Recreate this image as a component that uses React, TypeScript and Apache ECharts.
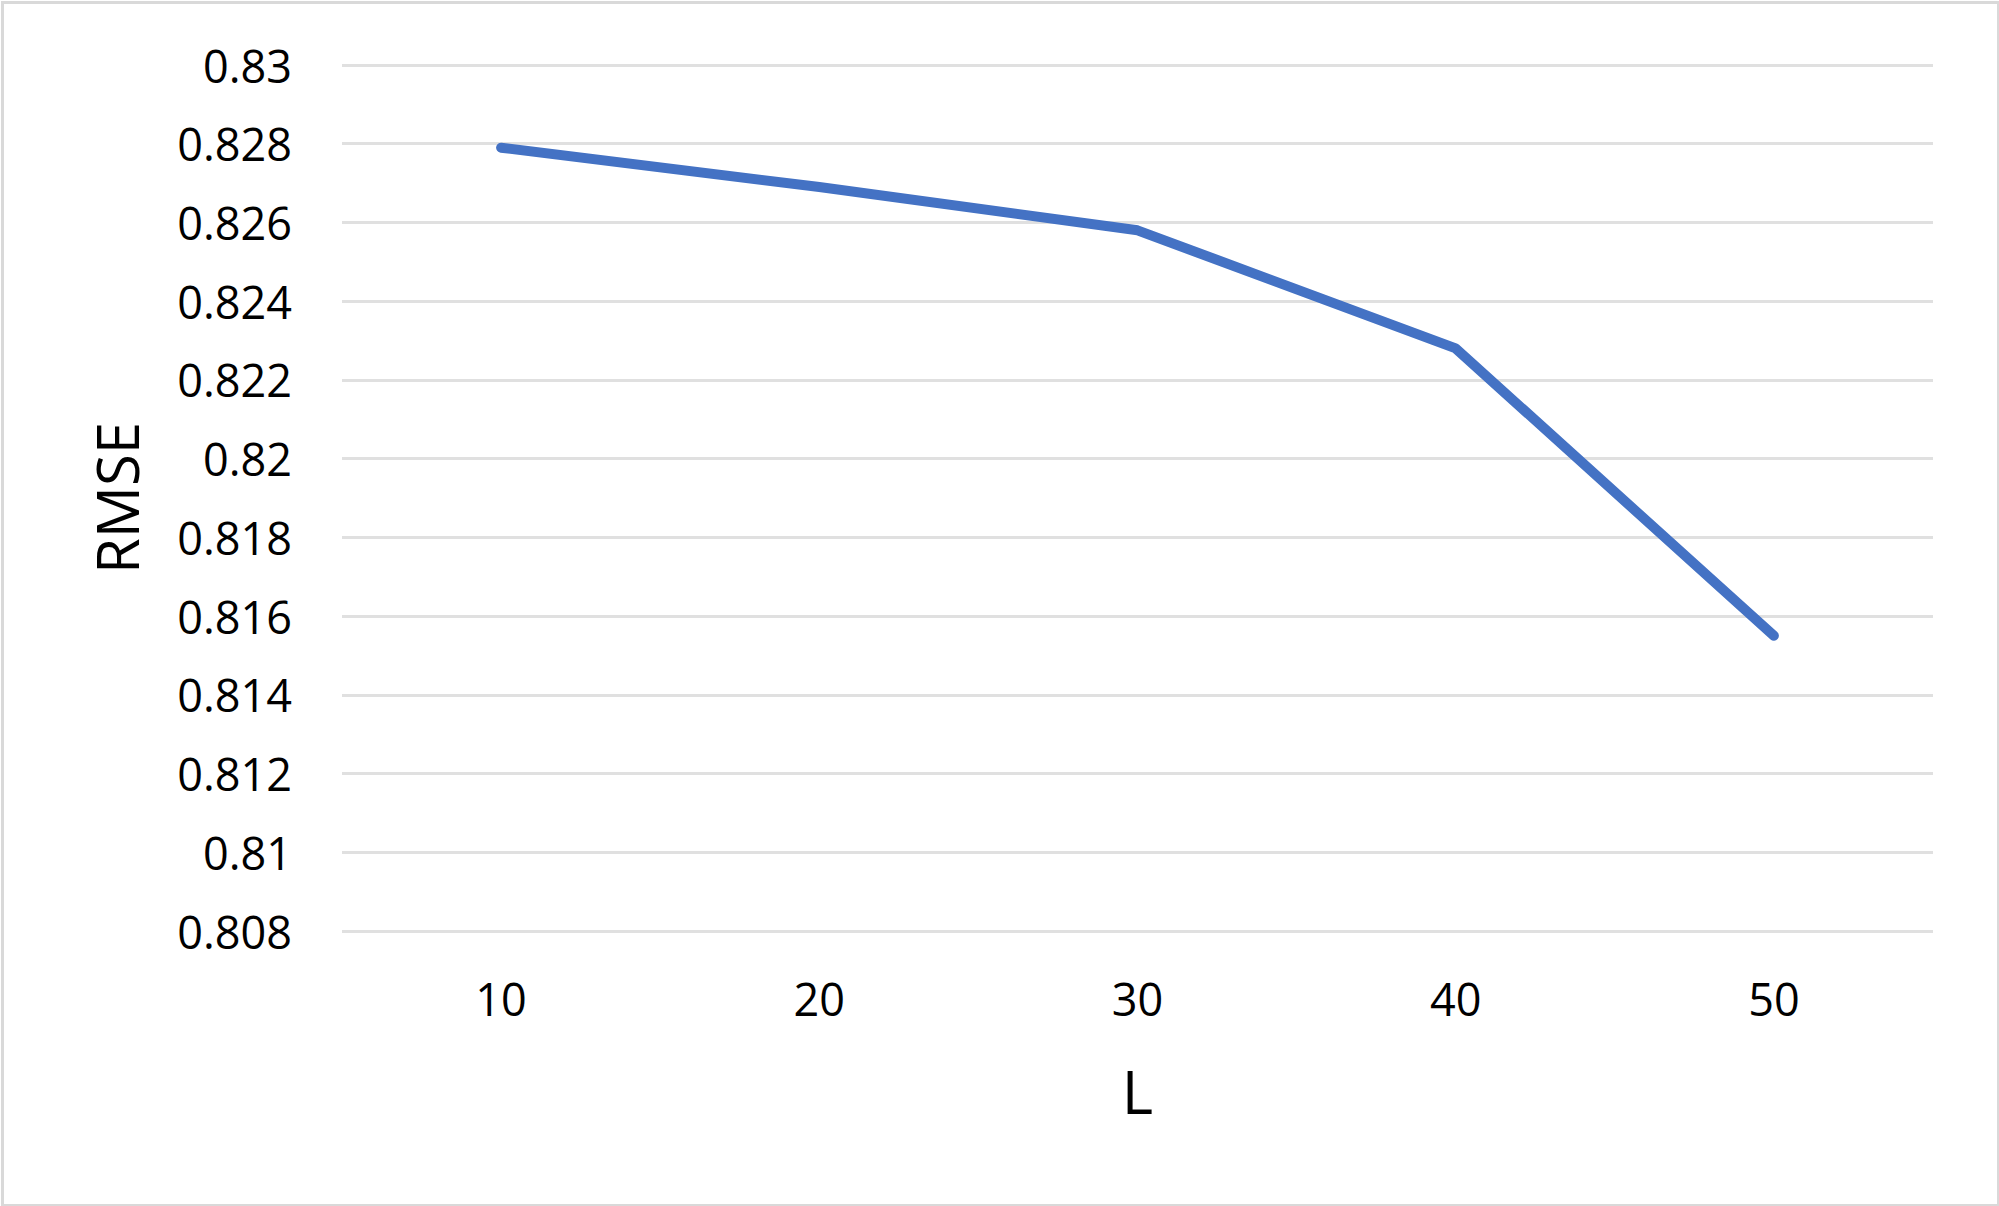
import React, { useEffect, useRef } from "react";
import * as echarts from "echarts";

const categories = ["10", "20", "30", "40", "50"];
const rmseValues = [0.8279, 0.8269, 0.8258, 0.8228, 0.8155];
const yMin = 0.808;
const yMax = 0.83;
const yStep = 0.002;
const xName = "L";
const yName = "RMSE";

export default function App() {
  const ref = useRef<HTMLDivElement>(null);
  useEffect(() => {
    if (!ref.current) return;
    const chart = echarts.init(ref.current, undefined, { renderer: "svg" });
    const font = "'Open Sans', sans-serif";
    chart.setOption({
      animation: false,
      backgroundColor: "#ffffff",
      graphic: [
        {
          type: "rect",
          left: 0,
          top: 0,
          shape: { x: 1.5, y: 1.5, width: 1996, height: 1203 },
          style: { fill: "none", stroke: "#d9d9d9", lineWidth: 3 },
          silent: true,
        },
      ],
      grid: { left: 342, right: 66, top: 65, bottom: 275, containLabel: false },
      xAxis: {
        type: "category",
        data: categories,
        boundaryGap: true,
        name: xName,
        nameLocation: "middle",
        nameGap: 130,
        nameTextStyle: { fontFamily: font, fontSize: 60, color: "#000" },
        axisLine: { show: false },
        axisTick: { show: false },
        axisLabel: { fontFamily: font, fontSize: 45, color: "#000", margin: 45 },
      },
      yAxis: {
        type: "value",
        min: yMin,
        max: yMax,
        interval: yStep,
        name: yName,
        nameLocation: "middle",
        nameGap: 197,
        nameRotate: 90,
        nameTextStyle: { fontFamily: font, fontSize: 58, color: "#000" },
        axisLine: { show: false },
        axisTick: { show: false },
        axisLabel: {
          fontFamily: font,
          fontSize: 45,
          color: "#000",
          margin: 50,
          formatter: (v: number) => String(parseFloat(v.toFixed(3))),
        },
        splitLine: { lineStyle: { color: "#e0e0e0", width: 3 } },
      },
      series: [
        {
          type: "line",
          data: rmseValues,
          showSymbol: false,
          symbol: "none",
          lineStyle: { color: "#4472C4", width: 10, cap: "round", join: "round" },
        },
      ],
    });
    return () => chart.dispose();
  }, []);
  return (
    <div
      ref={ref}
      style={{ position: "fixed", left: 0, top: 0, width: 1999, height: 1206 }}
    />
  );
}
